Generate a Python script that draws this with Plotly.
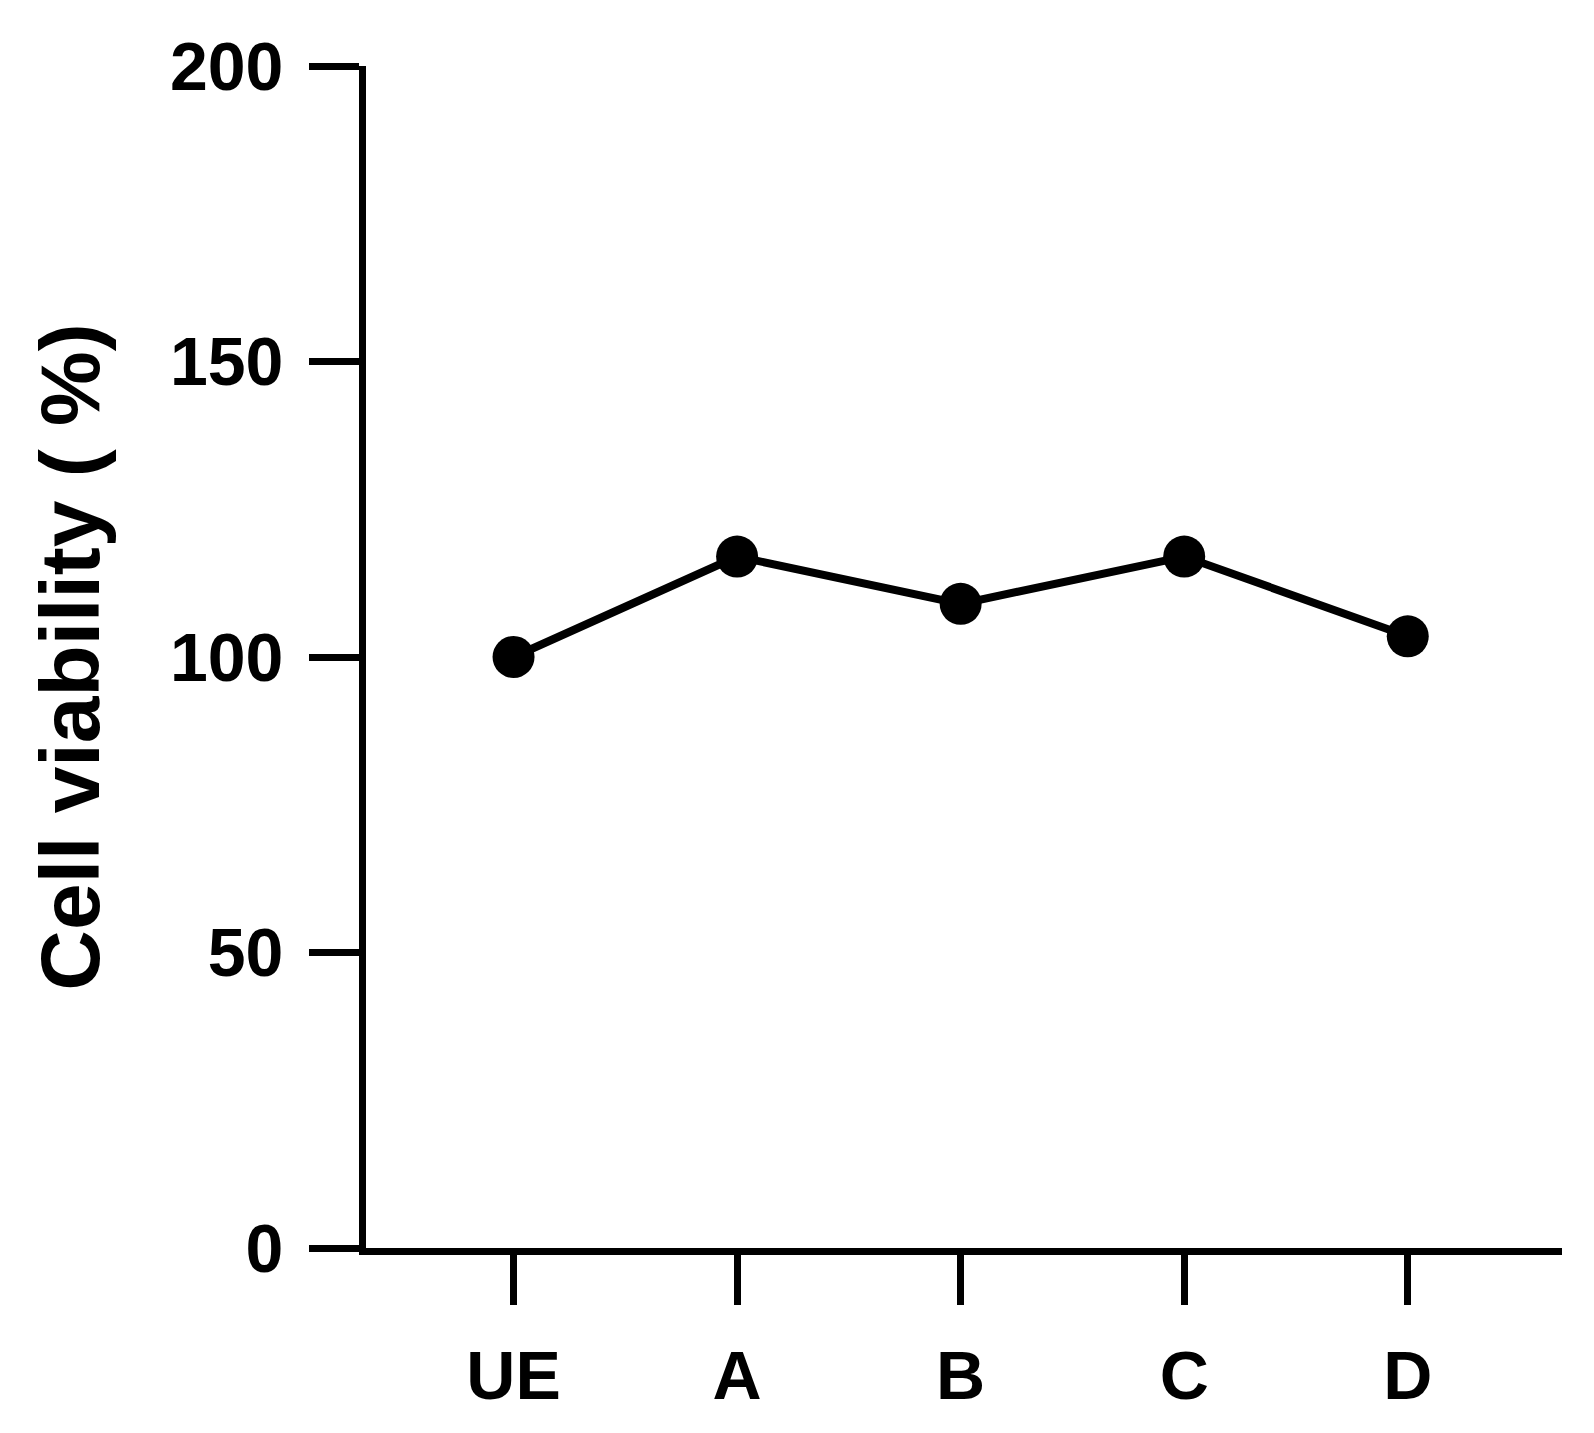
import plotly.graph_objects as go

categories = ["UE", "A", "B", "C", "D"]
viability = [100, 117, 109, 117, 103.5]
y_ticks = [0, 50, 100, 150, 200]

fig = go.Figure(go.Scatter(
    x=list(range(len(categories))), y=viability, mode="lines+markers",
    line=dict(color="black", width=8),
    marker=dict(color="black", size=42),
))
font = dict(family="Liberation Sans, Arial", size=68, color="black", weight="bold")
fig.update_layout(
    width=1594, height=1433, plot_bgcolor="white", paper_bgcolor="white",
    margin=dict(l=358, r=40, t=58, b=193), showlegend=False,
    font=font,
)
fig.update_xaxes(
    range=[-0.66, 4.69], tickvals=list(range(len(categories))), ticktext=categories,
    showline=True, linecolor="black", linewidth=7, ticks="outside", ticklen=50,
    tickwidth=7, tickcolor="black", showgrid=False, zeroline=False,
    tickfont=font, ticklabelstandoff=12,
)
fig.update_yaxes(
    range=[0, 200], tickvals=y_ticks, showline=True, linecolor="black", linewidth=7,
    ticks="outside", ticklen=50, tickwidth=7, tickcolor="black", showgrid=False,
    zeroline=False, tickfont=font, ticklabelstandoff=12,
    title=dict(text="Cell viability ( %)", font=dict(family="Liberation Sans, Arial", size=84, color="black", weight="bold"), standoff=45),
)
fig.write_html("out.html")
